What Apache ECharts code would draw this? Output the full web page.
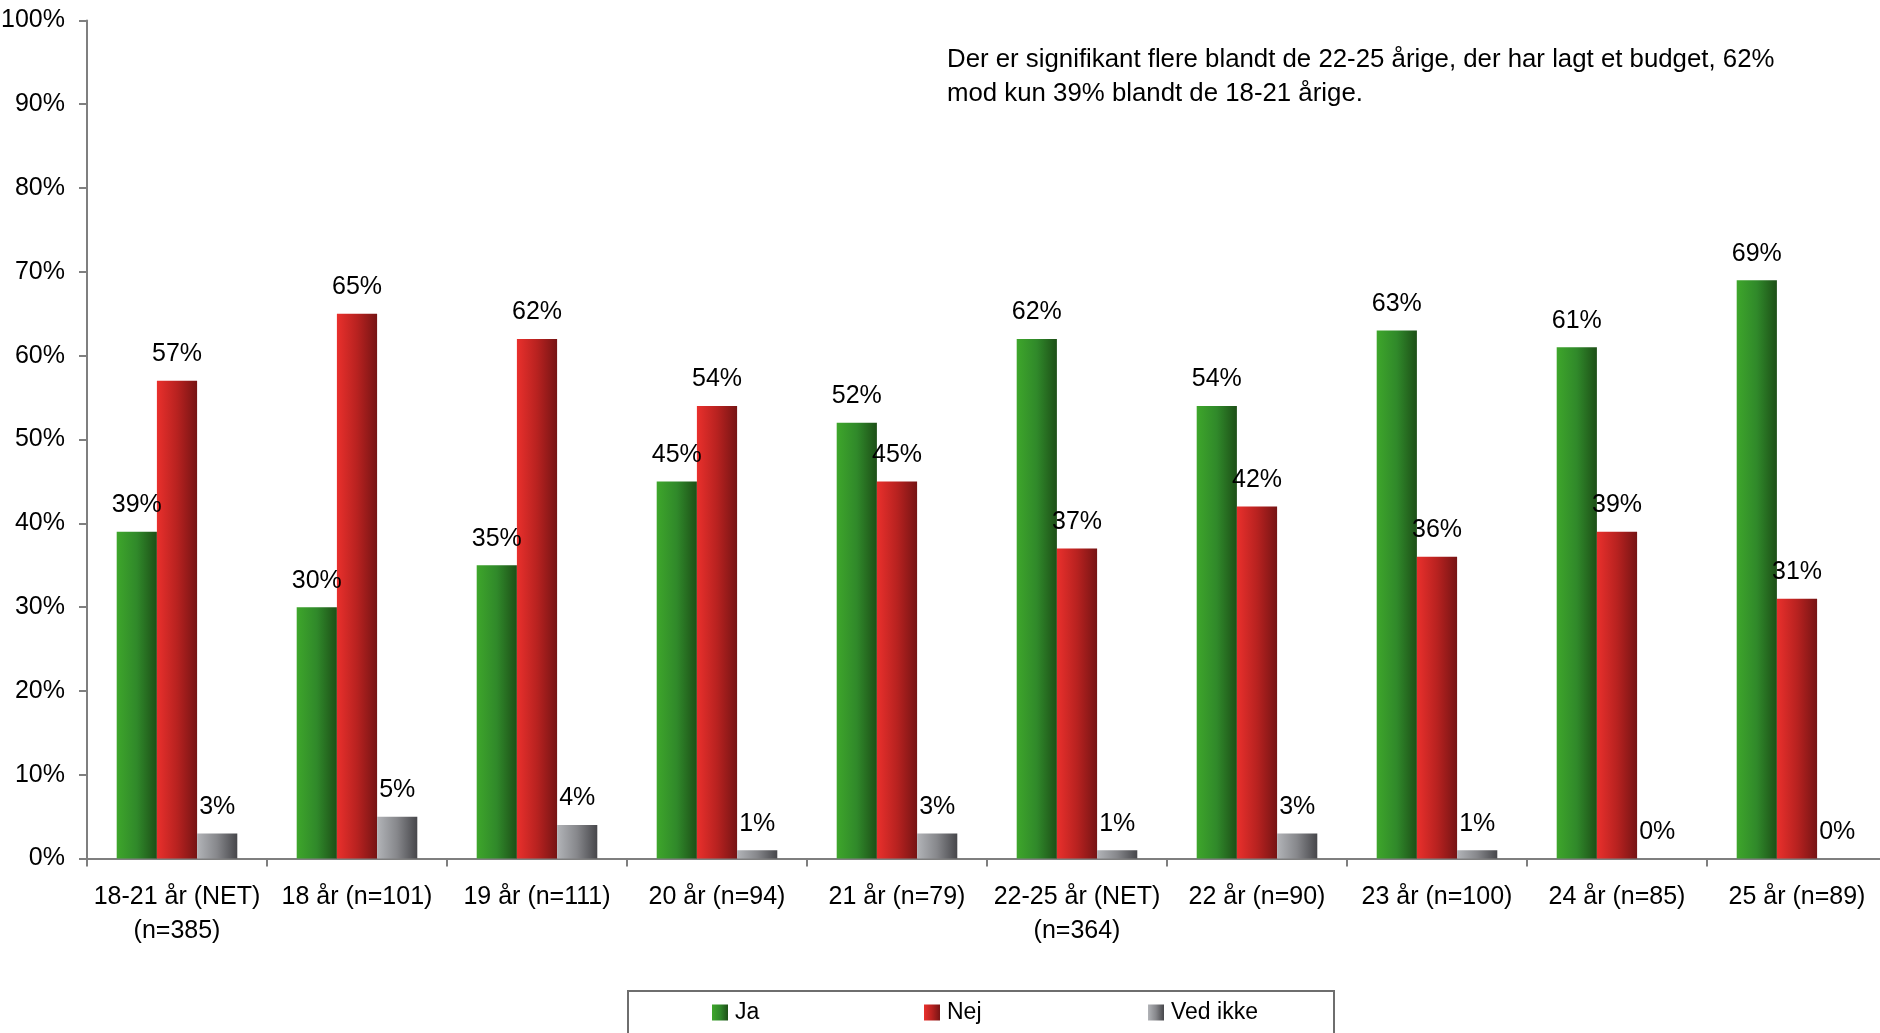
<!DOCTYPE html>
<html>
<head>
<meta charset="utf-8">
<script src="https://cdn.jsdelivr.net/npm/echarts@6/dist/echarts.min.js"></script>
<style>
html,body{margin:0;padding:0;background:#fff;}
#c{width:1880px;height:1033px;}
</style>
</head>
<body>
<div id="c"></div>
<script>
const categories = [
  "18-21 år (NET)\n(n=385)", "18 år (n=101)", "19 år (n=111)", "20 år (n=94)", "21 år (n=79)",
  "22-25 år (NET)\n(n=364)", "22 år (n=90)", "23 år (n=100)", "24 år (n=85)", "25 år (n=89)"
];
const seriesNames = ["Ja", "Nej", "Ved ikke"];
const jaValues = [39, 30, 35, 45, 52, 62, 54, 63, 61, 69];
const nejValues = [57, 65, 62, 54, 45, 37, 42, 36, 39, 31];
const vedIkkeValues = [3, 5, 4, 1, 3, 1, 3, 1, 0, 0];
const yTicks = [0, 10, 20, 30, 40, 50, 60, 70, 80, 90, 100];
const annotationText = "Der er signifikant flere blandt de 22-25 årige, der har lagt et budget, 62%\nmod kun 39% blandt de 18-21 årige.";

const FONT = "'Liberation Sans', Arial, sans-serif";
const NARROW = "'Liberation Sans Narrow', 'Arial Narrow', 'Liberation Sans', sans-serif";

function grad(c1, c2, c3) {
  return new echarts.graphic.LinearGradient(0, 0, 1, 0, [
    {offset: 0, color: c1}, {offset: 0.5, color: c2}, {offset: 1, color: c3}
  ]);
}
const colors = [
  grad('#3ea62b', '#30892a', '#1d4f17'),
  grad('#e9302c', '#b82220', '#761414'),
  grad('#b2b4b8', '#86878b', '#46464a')
];

function makeSeries(name, data, idx) {
  return {
    name: name,
    type: 'bar',
    data: data,
    barGap: '0%',
    barCategoryGap: '33%',
    itemStyle: {color: colors[idx]},
    label: {
      show: true,
      position: 'top',
      distance: 14,
      formatter: '{c}%',
      fontFamily: FONT,
      fontSize: 25,
      color: '#000'
    },
    emphasis: {disabled: true}
  };
}

const chart = echarts.init(document.getElementById('c'), null, {renderer: 'canvas'});
chart.setOption({
  animation: false,
  backgroundColor: '#fff',
  grid: {left: 87, width: 1800, top: 20.4, height: 838.2, containLabel: false, outerBoundsMode: 'none'},
  xAxis: {
    type: 'category',
    data: categories,
    axisLine: {lineStyle: {color: '#7f7f7f', width: 2}},
    axisTick: {show: true, length: 8, alignWithLabel: false, lineStyle: {color: '#7f7f7f', width: 2}},
    axisLabel: {
      interval: 0, margin: 22, fontFamily: FONT, fontSize: 25, color: '#000', lineHeight: 34
    },
    splitLine: {show: false}
  },
  yAxis: {
    type: 'value',
    min: 0, max: 100, interval: 10,
    axisLine: {show: true, lineStyle: {color: '#7f7f7f', width: 2}},
    axisTick: {show: true, length: 8, lineStyle: {color: '#7f7f7f', width: 2}},
    axisLabel: {
      margin: 22, fontFamily: FONT, fontSize: 25, color: '#000',
      formatter: function (v) { return yTicks.indexOf(v) >= 0 ? v + '%' : ''; }
    },
    splitLine: {show: false}
  },
  legend: [0, 1, 2].map(function (i) {
    return {
      data: [seriesNames[i]],
      left: [712, 924, 1148][i],
      top: 1001,
      itemWidth: 16, itemHeight: 16,
      itemGap: 0,
      padding: 0,
      textStyle: {fontFamily: NARROW, fontSize: 23, color: '#000', padding: [0, 0, 0, 2]},
      selectedMode: false,
      icon: 'rect'
    };
  }),
  graphic: [
    {
      type: 'rect',
      shape: {x: 628, y: 991, width: 706, height: 60},
      style: {fill: 'none', stroke: '#6e6e6e', lineWidth: 2},
      silent: true
    },
    {
      type: 'text',
      left: 947,
      top: 43,
      style: {
        text: annotationText,
        fontFamily: FONT,
        fontSize: 25.8,
        lineHeight: 34,
        fill: '#000'
      },
      silent: true
    }
  ],
  series: [
    makeSeries(seriesNames[0], jaValues, 0),
    makeSeries(seriesNames[1], nejValues, 1),
    makeSeries(seriesNames[2], vedIkkeValues, 2)
  ]
});
</script>
</body>
</html>
